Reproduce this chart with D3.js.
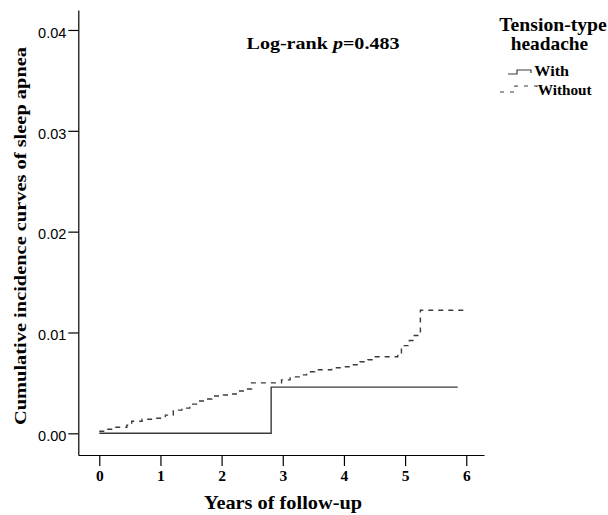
<!DOCTYPE html>
<html>
<head>
<meta charset="utf-8">
<script src="https://cdn.jsdelivr.net/npm/d3@7"></script>
<style>
  body { margin: 0; background: #fff; }
  svg { display: block; }
</style>
</head>
<body>
<svg id="chart" width="608" height="515"></svg>
<script>
// values
var withTimes = [0, 2.81, 5.86];
var withValues = [0, 0.00458, 0.00458];

var withoutTimes = [0, 0.10, 0.26, 0.45, 0.53, 0.70, 0.94, 1.08, 1.21, 1.35, 1.48, 1.59,
  1.73, 1.84, 2.03, 2.16, 2.27, 2.41, 2.49, 2.98, 3.12, 3.28, 3.39, 3.52, 3.80, 3.99,
  4.12, 4.26, 4.39, 4.50, 4.88, 4.94, 5.07, 5.15, 5.25, 5.96];
var withoutValues = [0.0002, 0.0004, 0.0006, 0.0008, 0.0012, 0.0014, 0.0015, 0.0018, 0.0023,
  0.0025, 0.0029, 0.0032, 0.0034, 0.0037, 0.0038, 0.0039, 0.0042, 0.0044, 0.0050, 0.0053,
  0.0056, 0.0058, 0.0061, 0.0063, 0.0065, 0.0066, 0.0068, 0.0071, 0.0073, 0.0076, 0.0079,
  0.0087, 0.0092, 0.0097, 0.0122, 0.0122];

var xTicks = [0, 1, 2, 3, 4, 5, 6];
var yTicks = [0, 0.01, 0.02, 0.03, 0.04];
var groupNames = ["With", "Without"];

var SERIF = "'Liberation Serif', 'Times New Roman', Times, serif";

var svg = d3.select("#chart");

function serifText(sel, size) {
  return sel.style("font-family", SERIF).style("font-weight", "bold")
    .style("font-size", size + "px").attr("fill", "#000");
}

var xScale = d3.scaleLinear().domain([-0.343, 6.29]).range([78.3, 484]);
var yScale = d3.scaleLinear().domain([-0.00215, 0.04198]).range([455, 10]);

// axes
var xAxis = svg.append("g")
  .attr("transform", "translate(0,455)")
  .call(d3.axisBottom(xScale).tickValues(xTicks).tickSize(11).tickSizeOuter(0).tickPadding(4).tickFormat(d3.format("d")));
serifText(xAxis.selectAll("text"), 15.5);

var yAxis = svg.append("g")
  .attr("transform", "translate(78.3,0)")
  .call(d3.axisLeft(yScale).tickValues(yTicks).tickSize(10).tickSizeOuter(0).tickPadding(2).tickFormat(d3.format(".2f")));
yAxis.selectAll("text")
  .style("font-family", "'Liberation Sans', Arial, sans-serif")
  .style("font-size", "14.5px")
  .attr("dy", "0.5em")
  .attr("fill", "#000");

svg.selectAll(".domain, .tick line").attr("stroke", "#000").attr("stroke-width", 1.2);

// curves
var line = d3.line()
  .curve(d3.curveStepAfter)
  .x(function(d) { return xScale(d[0]); })
  .y(function(d) { return yScale(d[1]); });

var withData = withTimes.map(function(t, i) { return [t, withValues[i]]; });
var withoutData = withoutTimes.map(function(t, i) { return [t, withoutValues[i]]; });

svg.append("path").datum(withData)
  .attr("d", line)
  .attr("fill", "none")
  .attr("stroke", "#3a3a3a")
  .attr("stroke-width", 1.4);

svg.append("path").datum(withoutData)
  .attr("d", line)
  .attr("fill", "none")
  .attr("stroke", "#3a3a3a")
  .attr("stroke-width", 1.4)
  .attr("stroke-dasharray", "5,5");

// titles
serifText(svg.append("text"), 19)
  .attr("x", 283).attr("y", 509)
  .attr("text-anchor", "middle")
  .attr("textLength", 158).attr("lengthAdjust", "spacingAndGlyphs")
  .text("Years of follow-up");

serifText(svg.append("text"), 17.5)
  .attr("transform", "translate(25.5,236) rotate(-90)")
  .attr("text-anchor", "middle")
  .attr("textLength", 378).attr("lengthAdjust", "spacingAndGlyphs")
  .text("Cumulative incidence curves of sleep apnea");

var lr = serifText(svg.append("text"), 17)
  .attr("x", 246.5).attr("y", 48.5)
  .attr("textLength", 153).attr("lengthAdjust", "spacingAndGlyphs");
lr.append("tspan").text("Log-rank ");
lr.append("tspan").style("font-style", "italic").text("p");
lr.append("tspan").text("=0.483");

// legend
serifText(svg.append("text"), 19)
  .attr("x", 499.3).attr("y", 31)
  .attr("textLength", 107.5).attr("lengthAdjust", "spacingAndGlyphs")
  .text("Tension-type");
serifText(svg.append("text"), 19)
  .attr("x", 510.7).attr("y", 50)
  .attr("textLength", 77.5).attr("lengthAdjust", "spacingAndGlyphs")
  .text("headache");

var legend = svg.append("g").attr("transform", "translate(508,74)");
legend.append("path")
  .attr("d", "M0,0H9V-4H23V-1")
  .attr("fill", "none").attr("stroke", "#3a3a3a").attr("stroke-width", 1.2);
legend.append("path")
  .attr("d", "M-8,18H7V12H29V16")
  .attr("fill", "none").attr("stroke", "#3a3a3a").attr("stroke-width", 1.2)
  .attr("stroke-dasharray", "4,6");

var lengths = [34.7, 54];
serifText(legend.selectAll(".lab").data(groupNames).enter().append("text"), 14.5)
  .attr("x", function(d, i) { return i === 0 ? 26.3 : 29.7; })
  .attr("y", function(d, i) { return 2 + i * 19; })
  .attr("textLength", function(d, i) { return lengths[i]; })
  .attr("lengthAdjust", "spacingAndGlyphs")
  .text(function(d) { return d; });
</script>
</body>
</html>
